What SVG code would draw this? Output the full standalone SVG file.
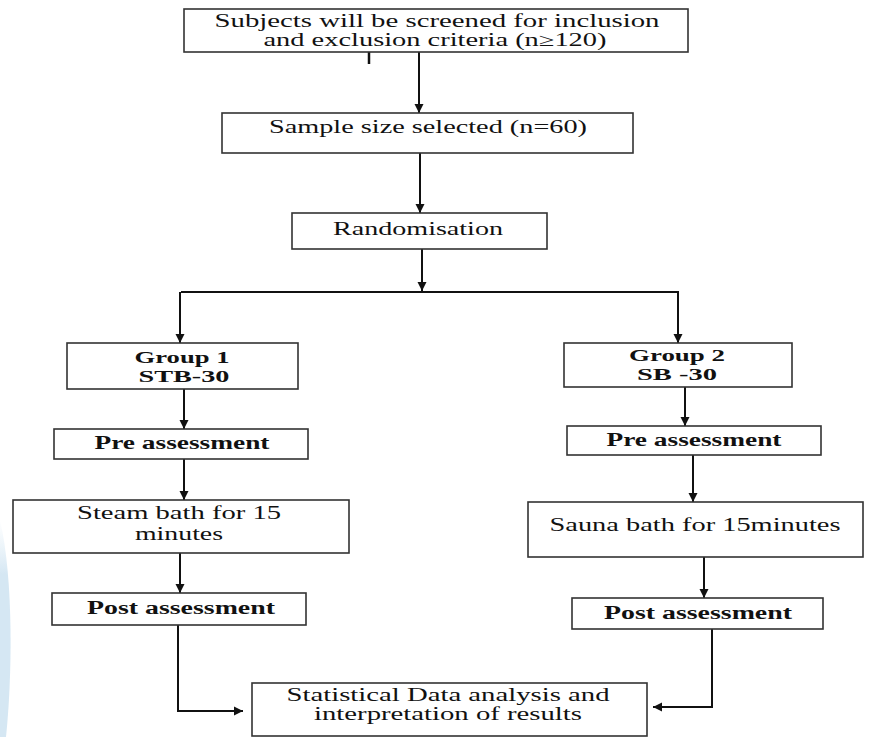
<svg xmlns="http://www.w3.org/2000/svg" width="869" height="737" viewBox="0 0 869 737">
<style>
.box{fill:#fff;stroke:#333;stroke-width:1.6}
.t{font-family:'Liberation Serif','Times New Roman',serif;font-size:18px;fill:#111;text-anchor:middle}
.b{font-weight:bold}
.g{font-size:16px}
.c{fill:none;stroke:#111;stroke-width:2}
</style>
<defs>
<marker id="ah" markerUnits="userSpaceOnUse" markerWidth="11" markerHeight="10" refX="9" refY="5" orient="auto">
<path d="M0,0.5 L9,5 L0,9.5 Z" fill="#111"/>
</marker>
<linearGradient id="bg" x1="0" y1="0" x2="0" y2="1">
<stop offset="0" stop-color="#dcebf5" stop-opacity="0"/>
<stop offset="0.25" stop-color="#d5e7f3"/>
<stop offset="1" stop-color="#d5e7f3"/>
</linearGradient>
</defs>
<rect width="869" height="737" fill="#fff"/>
<path d="M0,520 C14,580 12,680 6,737 L0,737 Z" fill="url(#bg)"/>

<g id="connectors">
<line class="c" x1="419" y1="52" x2="419" y2="113" marker-end="url(#ah)"/>
<line class="c" x1="420" y1="153" x2="420" y2="213" marker-end="url(#ah)"/>
<line class="c" x1="422" y1="249" x2="422" y2="291" marker-end="url(#ah)"/>
<line class="c" x1="181" y1="292" x2="679" y2="292"/>
<line class="c" x1="180" y1="292" x2="180" y2="343" marker-end="url(#ah)"/>
<line class="c" x1="678" y1="292" x2="678" y2="343" marker-end="url(#ah)"/>
<line class="c" x1="184" y1="389" x2="184" y2="429" marker-end="url(#ah)"/>
<line class="c" x1="184" y1="459" x2="184" y2="500" marker-end="url(#ah)"/>
<line class="c" x1="180" y1="553" x2="180" y2="593" marker-end="url(#ah)"/>
<polyline class="c" points="178,625 178,711 243,711" marker-end="url(#ah)"/>
<line class="c" x1="685" y1="387" x2="685" y2="426" marker-end="url(#ah)"/>
<line class="c" x1="693" y1="455" x2="693" y2="502" marker-end="url(#ah)"/>
<line class="c" x1="704" y1="557" x2="704" y2="598" marker-end="url(#ah)"/>
<polyline class="c" points="712,629 712,707 653,707" marker-end="url(#ah)"/>
<line x1="369" y1="48" x2="369" y2="64" stroke="#111" stroke-width="2.5"/>
</g>

<g id="screen">
<rect class="box" x="184" y="9" width="504" height="43"/>
<text class="t" x="437" y="27" textLength="445" lengthAdjust="spacingAndGlyphs">Subjects will be screened for inclusion</text>
<text class="t" x="435" y="46" textLength="343" lengthAdjust="spacingAndGlyphs">and exclusion criteria (n≥120)</text>
</g>
<g id="sample">
<rect class="box" x="222" y="113" width="411" height="40"/>
<text class="t" x="428" y="133" textLength="318" lengthAdjust="spacingAndGlyphs">Sample size selected (n=60)</text>
</g>
<g id="random">
<rect class="box" x="292" y="213" width="255" height="36"/>
<text class="t" x="418" y="235" textLength="170" lengthAdjust="spacingAndGlyphs">Randomisation</text>
</g>
<g id="group1">
<rect class="box" x="67" y="343" width="231" height="46"/>
<text class="t b g" x="182" y="363" textLength="95" lengthAdjust="spacingAndGlyphs">Group 1</text>
<text class="t b g" x="184" y="382" textLength="91" lengthAdjust="spacingAndGlyphs">STB-30</text>
</g>
<g id="pre1">
<rect class="box" x="54" y="429" width="254" height="30"/>
<text class="t b" x="182" y="449" textLength="175" lengthAdjust="spacingAndGlyphs">Pre assessment</text>
</g>
<g id="steam">
<rect class="box" x="13" y="500" width="336" height="53"/>
<text class="t" x="179" y="519" textLength="204" lengthAdjust="spacingAndGlyphs">Steam bath for 15</text>
<text class="t" x="179" y="540" textLength="88" lengthAdjust="spacingAndGlyphs">minutes</text>
</g>
<g id="post1">
<rect class="box" x="52" y="593" width="254" height="32"/>
<text class="t b" x="181" y="614" textLength="188" lengthAdjust="spacingAndGlyphs">Post assessment</text>
</g>
<g id="group2">
<rect class="box" x="564" y="343" width="228" height="44"/>
<text class="t b g" x="677" y="361" textLength="96" lengthAdjust="spacingAndGlyphs">Group 2</text>
<text class="t b g" x="677" y="380" textLength="80" lengthAdjust="spacingAndGlyphs">SB -30</text>
</g>
<g id="pre2">
<rect class="box" x="567" y="426" width="254" height="29"/>
<text class="t b" x="694" y="446" textLength="175" lengthAdjust="spacingAndGlyphs">Pre assessment</text>
</g>
<g id="sauna">
<rect class="box" x="528" y="502" width="335" height="55"/>
<text class="t" x="695" y="531" textLength="291" lengthAdjust="spacingAndGlyphs">Sauna bath for 15minutes</text>
</g>
<g id="post2">
<rect class="box" x="572" y="598" width="251" height="31"/>
<text class="t b" x="698" y="619" textLength="188" lengthAdjust="spacingAndGlyphs">Post assessment</text>
</g>
<g id="stats">
<rect class="box" x="252" y="683" width="395" height="53"/>
<text class="t" x="448" y="701" textLength="323" lengthAdjust="spacingAndGlyphs">Statistical Data analysis and</text>
<text class="t" x="448" y="720" textLength="268" lengthAdjust="spacingAndGlyphs">interpretation  of results</text>
</g>
</svg>
